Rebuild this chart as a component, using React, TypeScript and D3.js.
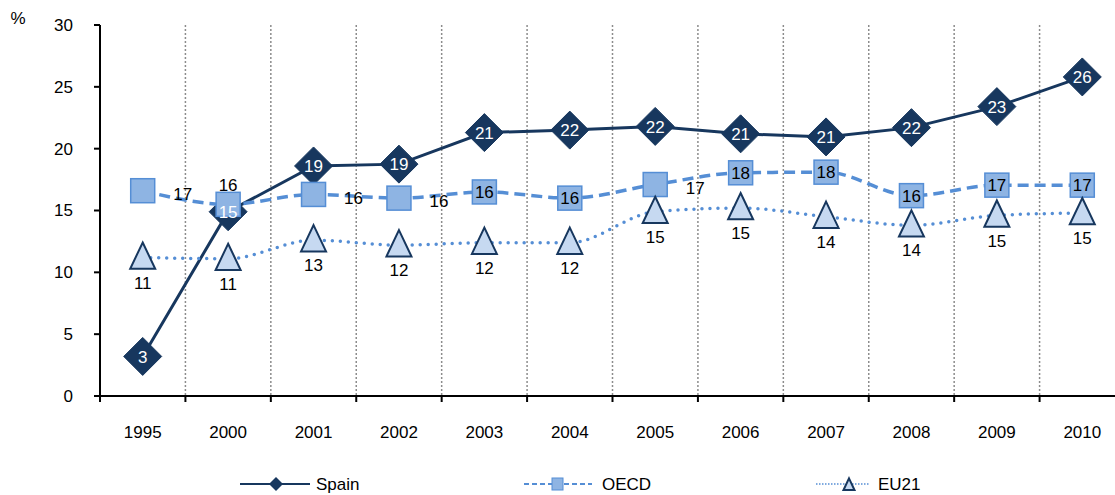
import React from "react";
import * as d3 from "d3";

const categories = ["1995", "2000", "2001", "2002", "2003", "2004", "2005", "2006", "2007", "2008", "2009", "2010"];
const spain = [3.2, 14.9, 18.6, 18.75, 21.3, 21.5, 21.8, 21.2, 20.95, 21.7, 23.4, 25.8];
const spainLabels = ["3", "15", "19", "19", "21", "22", "22", "21", "21", "22", "23", "26"];
const oecd = [16.6, 15.5, 16.3, 16.0, 16.5, 16.0, 17.1, 18.05, 18.1, 16.2, 17.05, 17.05];
const oecdLabels = ["17", "16", "16", "16", "16", "16", "17", "18", "18", "16", "17", "17"];
const oecdLabelPos = ["right", "above", "right", "right", "center", "center", "right", "center", "center", "center", "center", "center"];
const eu21 = [11.2, 11.1, 12.6, 12.2, 12.4, 12.4, 14.9, 15.2, 14.5, 13.8, 14.6, 14.8];
const eu21Labels = ["11", "11", "13", "12", "12", "12", "15", "15", "14", "14", "15", "15"];
const yTicks = [0, 5, 10, 15, 20, 25, 30];

const W = 1115;
const H = 495;
const FONT = "Arial, 'Liberation Sans', sans-serif";
const FS = 17;
const NAVY = "#17375E";
const MID = "#558ED5";
const SQFILL = "#8EB4E3";
const TRIFILL = "#C6D9F1";

export default function App() {
  const x = d3.scaleBand<string>().domain(categories).range([100, 1125]).paddingInner(0).paddingOuter(0);
  const y = d3.scaleLinear().domain([0, 30]).range([396, 25]);
  const cx = (c: string) => (x(c) as number) + x.bandwidth() / 2;

  const lineLinear = d3.line<number>().x((_, i) => cx(categories[i])).y((d) => y(d));
  const lineSmooth = d3
    .line<number>()
    .x((_, i) => cx(categories[i]))
    .y((d) => y(d))
    .curve(d3.curveMonotoneX);

  const diamond = (px: number, py: number, r: number) =>
    `M${px},${py - r}L${px + r},${py}L${px},${py + r}L${px - r},${py}Z`;
  const triangle = (px: number, py: number, s: number) =>
    `M${px},${py - s * 0.6}L${px + s / 2},${py + s * 0.45}L${px - s / 2},${py + s * 0.45}Z`;

  const boundaries = categories.slice(1).map((c) => x(c) as number);
  const LY = 484;

  return (
    <svg width={W} height={H} style={{ position: "absolute", left: 0, top: 0, background: "#fff" }} fontFamily={FONT}>
      {/* gridlines */}
      {boundaries.map((bx, i) => (
        <line key={"g" + i} x1={bx} x2={bx} y1={y(30)} y2={y(0)} stroke="#8c8c8c" strokeWidth={1.5} strokeDasharray="2,2" />
      ))}
      {/* y axis */}
      <line x1={100} x2={100} y1={y(30)} y2={y(0)} stroke="#000" strokeWidth={2} />
      {yTicks.map((t) => (
        <g key={"yt" + t}>
          <line x1={94} x2={100} y1={y(t)} y2={y(t)} stroke="#000" strokeWidth={2} />
          <text x={73} y={y(t)} dy="0.35em" textAnchor="end" fontSize={FS} fill="#000">
            {t}
          </text>
        </g>
      ))}
      <text x={18} y={24} textAnchor="middle" fontSize={FS} fill="#000">%</text>
      {/* x axis */}
      <line x1={100} x2={1125} y1={y(0)} y2={y(0)} stroke="#000" strokeWidth={2} />
      {[100, ...boundaries].map((bx, i) => (
        <line key={"xt" + i} x1={bx} x2={bx} y1={y(0)} y2={y(0) + 6} stroke="#000" strokeWidth={2} />
      ))}
      {categories.map((c) => (
        <text key={"xl" + c} x={cx(c)} y={432} dy="0.35em" textAnchor="middle" fontSize={FS} fill="#000">
          {c}
        </text>
      ))}

      {/* Spain */}
      <path d={lineLinear(spain) || ""} fill="none" stroke={NAVY} strokeWidth={3} />
      {spain.map((v, i) => (
        <path key={"sd" + i} d={diamond(cx(categories[i]), y(v), 19)} fill={NAVY} stroke={NAVY} strokeWidth={1} />
      ))}

      {/* OECD */}
      <path d={lineSmooth(oecd) || ""} fill="none" stroke={MID} strokeWidth={3.5} strokeDasharray="11,6" />
      {oecd.map((v, i) => (
        <rect key={"os" + i} x={cx(categories[i]) - 12} y={y(v) - 12} width={24} height={24} fill={SQFILL} stroke={MID} strokeWidth={1.5} />
      ))}

      {/* EU21 */}
      <path d={lineSmooth(eu21) || ""} fill="none" stroke={MID} strokeWidth={3.5} strokeDasharray="0,8" strokeLinecap="round" />
      {eu21.map((v, i) => (
        <path key={"et" + i} d={triangle(cx(categories[i]), y(v), 25)} fill={TRIFILL} stroke={NAVY} strokeWidth={2} />
      ))}

      {/* labels */}
      {spain.map((v, i) => (
        <text key={"sl" + i} x={cx(categories[i])} y={y(v)} dy="0.36em" textAnchor="middle" fontSize={FS} fill="#fff">
          {spainLabels[i]}
        </text>
      ))}
      {oecd.map((v, i) => {
        const pos = oecdLabelPos[i];
        const px = cx(categories[i]) + (pos === "right" ? 40 : 0);
        const py = y(v) + (pos === "above" ? -19 : pos === "right" ? 3 : 0);
        return (
          <text key={"ol" + i} x={px} y={py} dy="0.36em" textAnchor="middle" fontSize={FS} fill="#000">
            {oecdLabels[i]}
          </text>
        );
      })}
      {eu21.map((v, i) => (
        <text key={"el" + i} x={cx(categories[i])} y={y(v) + 25} dy="0.36em" textAnchor="middle" fontSize={FS} fill="#000">
          {eu21Labels[i]}
        </text>
      ))}

      {/* legend */}
      <g>
        <line x1={240} x2={310} y1={LY} y2={LY} stroke={NAVY} strokeWidth={2} />
        <path d={diamond(276, LY, 7)} fill={NAVY} />
        <text x={316} y={LY} dy="0.36em" fontSize={FS} fill="#000">Spain</text>

        <line x1={524} x2={592} y1={LY} y2={LY} stroke={MID} strokeWidth={2} strokeDasharray="5,3" />
        <rect x={552} y={LY - 6} width={11} height={12} fill={SQFILL} stroke={MID} strokeWidth={1} />
        <text x={602} y={LY} dy="0.36em" fontSize={FS} fill="#000">OECD</text>

        <line x1={816} x2={870} y1={LY} y2={LY} stroke={MID} strokeWidth={1.5} strokeDasharray="1.5,1.5" />
        <path d={triangle(849, LY + 1, 11)} fill={TRIFILL} stroke={NAVY} strokeWidth={2} />
        <text x={878} y={LY} dy="0.36em" fontSize={FS} fill="#000">EU21</text>
      </g>
    </svg>
  );
}
